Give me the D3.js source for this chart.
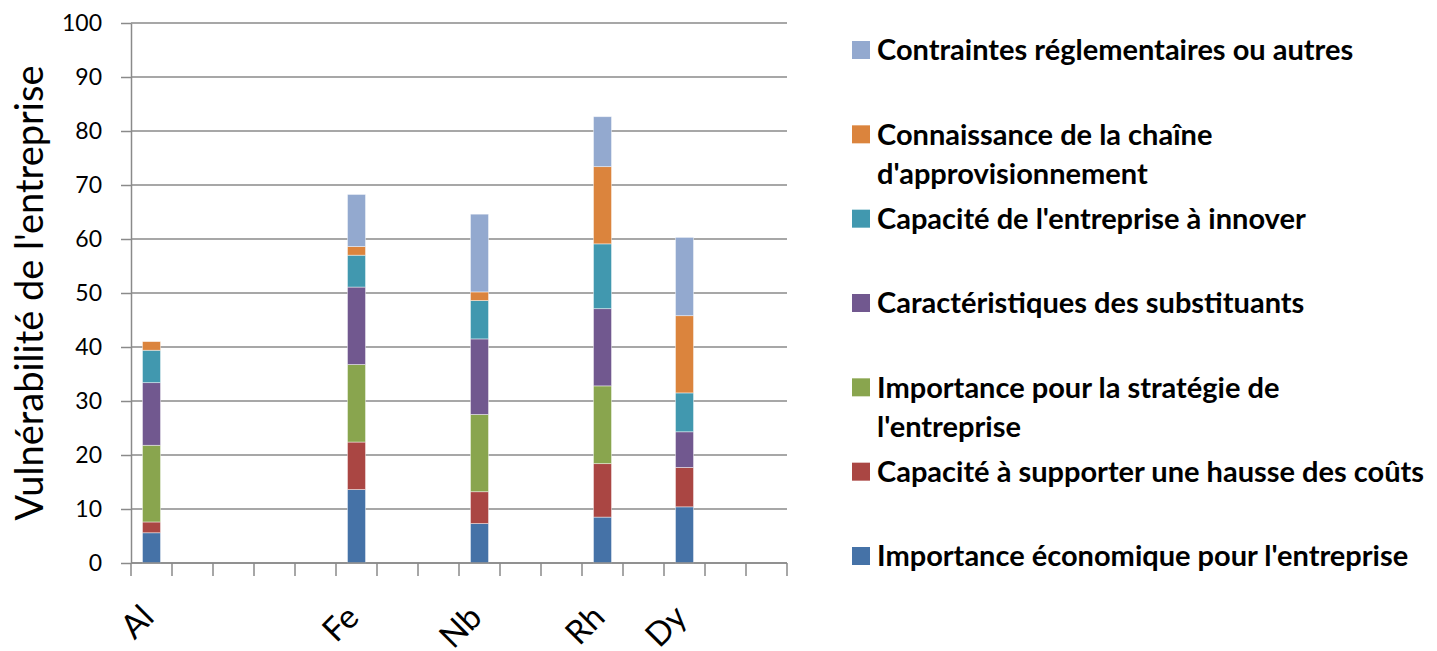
<!DOCTYPE html>
<html>
<head>
<meta charset="utf-8">
<script src="https://cdn.jsdelivr.net/npm/d3@7"></script>
<style>
  body { margin: 0; background: #fff; }
  svg { display: block; font-family: Lato, 'Open Sans', sans-serif; }
</style>
</head>
<body>
<div id="chart"></div>
<script>
// 16 category slots, only five carry a label and a bar
const categories = ['Al', '', '', '', '', 'Fe', '', '', 'Nb', '', '', 'Rh', '', 'Dy', '', ''];

const economique   = [5.6, 0, 0, 0, 0, 13.6, 0, 0, 7.3, 0, 0, 8.5, 0, 10.4, 0, 0];
const hausseCouts  = [2.0, 0, 0, 0, 0, 8.8, 0, 0, 5.9, 0, 0, 9.9, 0, 7.3, 0, 0];
const strategie    = [14.2, 0, 0, 0, 0, 14.35, 0, 0, 14.3, 0, 0, 14.4, 0, 0, 0, 0];
const substituants = [11.6, 0, 0, 0, 0, 14.35, 0, 0, 14.0, 0, 0, 14.3, 0, 6.6, 0, 0];
const innover      = [6.0, 0, 0, 0, 0, 5.9, 0, 0, 7.1, 0, 0, 12.0, 0, 7.2, 0, 0];
const chaine       = [1.6, 0, 0, 0, 0, 1.6, 0, 0, 1.6, 0, 0, 14.3, 0, 14.3, 0, 0];
const contraintes  = [0, 0, 0, 0, 0, 9.65, 0, 0, 14.4, 0, 0, 9.25, 0, 14.5, 0, 0];

const seriesNames = [
  "Importance économique pour l'entreprise",
  'Capacité à supporter une hausse des coûts',
  "Importance pour la stratégie de l'entreprise",
  'Caractéristiques des substituants',
  "Capacité de l'entreprise à innover",
  "Connaissance de la chaîne d'approvisionnement",
  'Contraintes réglementaires ou autres'
];
// legend text as it breaks in the original
const legendLines = [
  ["Importance économique pour l'entreprise"],
  ['Capacité à supporter une hausse des coûts'],
  ['Importance pour la stratégie de', "l'entreprise"],
  ['Caractéristiques des substituants'],
  ["Capacité de l'entreprise à innover"],
  ['Connaissance de la chaîne', "d'approvisionnement"],
  ['Contraintes réglementaires ou autres']
];
const seriesValues = [economique, hausseCouts, strategie, substituants, innover, chaine, contraintes];
const colors = ['#4572a7', '#aa4643', '#89a54e', '#71588f', '#4198af', '#db843d', '#93a9cf'];

const yTicks = [0, 10, 20, 30, 40, 50, 60, 70, 80, 90, 100];
const yTitle = "Vulnérabilité de l'entreprise";

const W = 1437, H = 651;
const plot = {left: 131, right: 787, top: 23, bottom: 563};

const rows = categories.map((c, i) => {
  const r = {idx: i, label: c};
  seriesNames.forEach((s, k) => { r[s] = seriesValues[k][i]; });
  return r;
});

const stacked = d3.stack().keys(seriesNames)(rows);

const x = d3.scaleBand()
  .domain(rows.map(d => d.idx))
  .range([plot.left, plot.right])
  .padding(0);

const y = d3.scaleLinear()
  .domain([0, 100])
  .range([plot.bottom, plot.top]);

const color = d3.scaleOrdinal().domain(seriesNames).range(colors);

const svg = d3.select('#chart').append('svg')
  .attr('width', W)
  .attr('height', H);

// gridlines
svg.append('g')
  .selectAll('line')
  .data(yTicks)
  .join('line')
    .attr('x1', plot.left)
    .attr('x2', plot.right)
    .attr('y1', d => y(d))
    .attr('y2', d => y(d))
    .attr('stroke', '#8a8a8a')
    .attr('stroke-width', 1.5);

// y axis
const yAxis = svg.append('g')
  .attr('transform', `translate(${plot.left},0)`)
  .call(d3.axisLeft(y).tickValues(yTicks).tickSize(10).tickPadding(19).tickSizeOuter(0));
yAxis.select('.domain').attr('stroke', '#8a8a8a').attr('stroke-width', 1.5);
yAxis.selectAll('.tick line').attr('stroke', '#8a8a8a').attr('stroke-width', 1.5);
yAxis.selectAll('.tick text')
  .attr('fill', '#000')
  .style('font-size', '23px')
  .style('font-family', 'Lato, sans-serif');

// y title
svg.append('text')
  .attr('transform', `translate(43,${(plot.top + plot.bottom) / 2}) rotate(-90)`)
  .attr('text-anchor', 'middle')
  .style('font-size', '38px')
  .text(yTitle);

// bars
const bw = x.bandwidth() * 0.44;
svg.append('g')
  .selectAll('g')
  .data(stacked)
  .join('g')
    .attr('fill', d => color(d.key))
  .selectAll('rect')
  .data(d => d.filter(p => p[1] - p[0] > 0))
  .join('rect')
    .attr('x', d => x(d.data.idx) + (x.bandwidth() - bw) / 2)
    .attr('width', bw)
    .attr('y', d => y(d[1]))
    .attr('height', d => y(d[0]) - y(d[1]))
    .attr('stroke', 'rgba(255,255,255,0.55)')
    .attr('stroke-width', 0.8);

// x axis: line, ticks on slot boundaries, rotated labels
const xg = svg.append('g');
xg.append('line')
  .attr('x1', plot.left).attr('x2', plot.right)
  .attr('y1', plot.bottom).attr('y2', plot.bottom)
  .attr('stroke', '#8a8a8a').attr('stroke-width', 1.5);
const bounds = rows.map(d => x(d.idx)).concat([plot.right]);
xg.selectAll('.xt')
  .data(bounds)
  .join('line')
    .attr('class', 'xt')
    .attr('x1', d => d).attr('x2', d => d)
    .attr('y1', plot.bottom).attr('y2', plot.bottom + 13)
    .attr('stroke', '#8a8a8a').attr('stroke-width', 1.5);
xg.selectAll('text')
  .data(rows.filter(d => d.label))
  .join('text')
    .attr('transform', d => `translate(${x(d.idx) + x.bandwidth() / 2 - 12},${plot.bottom + 40}) rotate(-45)`)
    .attr('text-anchor', 'end')
    .attr('dy', '0.7em')
    .style('font-size', '33px')
    .text(d => d.label);

// legend, top entry is the top of the stack
const legendKeys = seriesNames.slice().reverse();
const ly = d3.scalePoint().domain(legendKeys).range([50, 556]);

legendKeys.forEach(k => {
  const g = svg.append('g').attr('transform', `translate(852,${ly(k)})`);
  g.append('rect')
    .attr('x', 0).attr('y', -9)
    .attr('width', 18).attr('height', 18)
    .attr('fill', color(k));
  g.append('text')
    .attr('y', 0)
    .attr('dy', '0.36em')
    .style('font-size', '29px')
    .style('font-weight', 700)
    .selectAll('tspan')
    .data(legendLines[seriesNames.indexOf(k)])
    .join('tspan')
      .attr('x', 25)
      .attr('dy', (d, i) => i ? '39px' : null)
      .text(d => d);
});
</script>
</body>
</html>
